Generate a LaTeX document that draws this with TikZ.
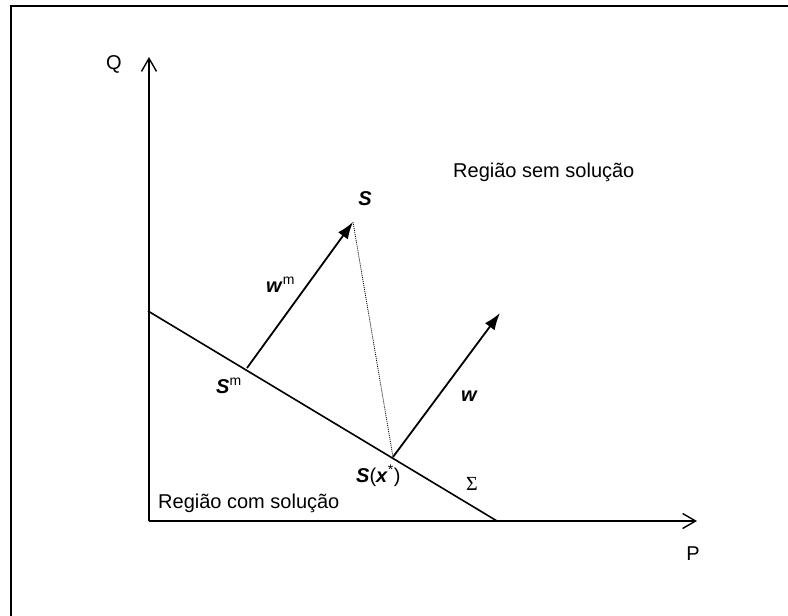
\documentclass[tikz,border=0pt]{standalone}
\usepackage{fontspec}
\setmainfont{Liberation Sans}
\newfontfamily\seriffont{Liberation Serif}
\usetikzlibrary{arrows.meta}
\begin{document}
\begin{tikzpicture}[x=1pt,y=-1pt,
  lbl/.style={inner sep=0pt,font=\fontsize{20}{24}\selectfont},
  axis/.style={line width=1.4pt,-{Straight Barb[length=13pt,width=15pt,line width=1.4pt]}},
  vec/.style={line width=1.8pt,-{Latex[length=17pt,width=12pt]}},
  plain/.style={line width=1.6pt},
  dots/.style={line width=0.8pt,dash pattern=on 1pt off 1pt}]
\useasboundingbox (0,0) rectangle (788,616);
% frame
\draw[line width=2pt] (11,616) -- (11,6) -- (788,6);
% coordinates
\coordinate (O) at (149,521);
\coordinate (Qtip) at (149,57);
\coordinate (Ptip) at (697,521);
\coordinate (Sig0) at (148,311);
\coordinate (Sig1) at (497,521);
\coordinate (Sm) at (247,368);
\coordinate (S) at (353,222);
\coordinate (Sx) at (393,457);
\coordinate (Wtip) at (500,313);
% axes
\draw[axis] (O) -- (Qtip);
\draw[axis] (O) -- (Ptip);
% sigma line
\draw[plain] (Sig0) -- (Sig1);
% vectors
\draw[vec] (Sm) -- (S);
\draw[vec] (Sx) -- (Wtip);
\draw[dots] (S) -- (Sx);
% labels
\node[lbl] (lQ) at (114,64) {Q};
\node[lbl] (lP) at (693,554) {P};
\node[lbl,anchor=base west] (lsem) at (453,177) {Região sem solução};
\node[lbl,anchor=base west] (lcom) at (158,508) {Região com solução};
\node[lbl,anchor=base] (lS) at (365,205) {\textbf{\textit{S}}};
\node[lbl,anchor=base west] (lwm) at (266,292) {\textbf{\textit{w}}\textsuperscript{m}};
\node[lbl,anchor=base west] (lSm) at (216,393) {\textbf{\textit{S}}\textsuperscript{m}};
\node[lbl,anchor=base west] (lSx) at (356,482) {\textbf{\textit{S}}(\textbf{\textit{x}}\textsuperscript{*})};
\node[lbl,anchor=base west] (lSig) at (466,490) {\seriffont Σ};
\node[lbl,anchor=base west] (lw) at (461,401) {\textbf{\textit{w}}};
\end{tikzpicture}
\end{document}
